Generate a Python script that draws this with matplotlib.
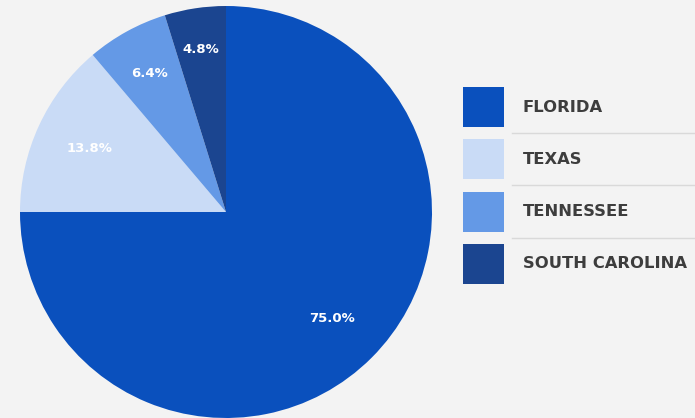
import matplotlib.pyplot as plt
from matplotlib.patches import Rectangle
import numpy as np

states = ['FLORIDA', 'TEXAS', 'TENNESSEE', 'SOUTH CAROLINA']
shares = [75.0, 13.8, 6.4, 4.8]
colors = ['#0a50bd', '#c9dbf6', '#6499e6', '#1b4590']
label_dist = [0.73, 0.73, 0.77, 0.80]

BG = '#f3f3f3'
plt.rcParams['font.family'] = ['DejaVu Sans']

fig = plt.figure(figsize=(6.95, 4.18), dpi=100)
fig.patch.set_facecolor(BG)

# pie
ax = fig.add_axes([20 / 695, 0, 412 / 695, 412 / 418])
wedges, _ = ax.pie(shares, colors=colors, startangle=90, counterclock=False,
                   radius=1, wedgeprops=dict(linewidth=0))
for w, val, d in zip(wedges, shares, label_dist):
    ang = np.deg2rad((w.theta1 + w.theta2) / 2)
    ax.text(d * np.cos(ang), d * np.sin(ang), f'{val:.1f}%', color='white',
            fontsize=9.5, fontweight='bold', ha='center', va='center')
ax.set_xlim(-1, 1)
ax.set_ylim(-1, 1)
ax.axis('off')

# legend, drawn in pixel coords
lg = fig.add_axes([0, 0, 1, 1])
lg.set_xlim(0, 695)
lg.set_ylim(418, 0)
lg.axis('off')
y0, step = 107, 52.3
for i, (name, c) in enumerate(zip(states, colors)):
    yc = y0 + i * step
    lg.add_patch(Rectangle((463, yc - 20), 41, 40, color=c, lw=0))
    lg.text(523, yc, name, color='#3d3d3d', fontsize=11.8, fontweight='bold',
            ha='left', va='center')
    if i < len(states) - 1:
        lg.plot([512, 695], [yc + 26, yc + 26], color='#d9d9d9', lw=1)

fig.savefig('out.png', dpi=100, facecolor=BG)
